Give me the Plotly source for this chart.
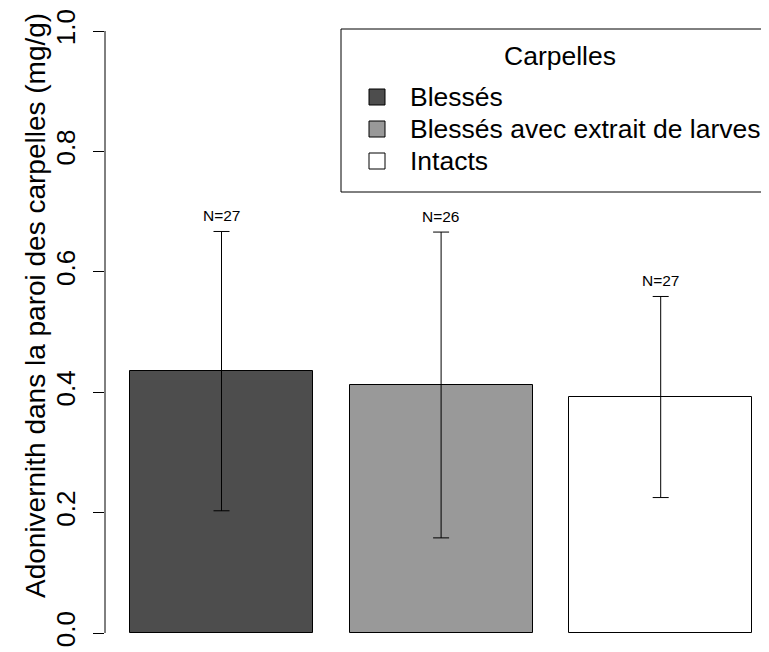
import plotly.graph_objects as go

# ---- data ----
categories = ["Blessés", "Blessés avec extrait de larves", "Intacts"]
means = [0.435, 0.412, 0.392]
sds = [0.232, 0.254, 0.167]
n_labels = ["N=27", "N=26", "N=27"]
bar_colors = ["#4D4D4D", "#999999", "#FFFFFF"]
y_ticks = [0.0, 0.2, 0.4, 0.6, 0.8, 1.0]
y_title = "Adonivernith dans la paroi des carpelles (mg/g)"
legend_title = "Carpelles"

# page body has an 8px margin -> figure is 8px smaller, all pixel refs in page coords
OFF = 8
W, H = 769 - OFF, 652 - OFF
PLOT_L, PLOT_R, PLOT_T, PLOT_B = 105, 769, 8, 652      # page pixel coords
ML = PLOT_L - OFF
MT = PLOT_T - OFF
PW, PH = PLOT_R - PLOT_L, PLOT_B - PLOT_T
FONT = "Arial, Liberation Sans, sans-serif"


def px_x(p):
    return (p - PLOT_L) / PW


def px_y(p):
    return (PLOT_B - p) / PH


fig = go.Figure()
fig.add_trace(go.Bar(
    x=categories, y=means,
    marker=dict(color=bar_colors, line=dict(color="black", width=1)),
    width=0.833,
    error_y=dict(type="data", array=sds, visible=True, color="black",
                 thickness=1, width=8),
    showlegend=False, hoverinfo="skip",
))

# N labels above error bars
for c, m, s, t in zip(categories, means, sds, n_labels):
    fig.add_annotation(x=c, y=m + s, text=t, showarrow=False, yshift=16,
                       yanchor="middle", font=dict(size=15.5, color="black", family=FONT))

# y axis line (R style, only from 0 to 1)
fig.add_shape(type="line", xref="paper", yref="y", x0=0, x1=0,
              y0=y_ticks[0], y1=y_ticks[-1], line=dict(color="black", width=1))

# y title
fig.add_annotation(xref="paper", yref="paper", x=px_x(35), y=px_y(306),
                   text=y_title, textangle=-90, showarrow=False,
                   xanchor="center", yanchor="middle",
                   font=dict(size=28, color="black", family=FONT))

# legend (manual, R style)
fig.add_shape(type="rect", xref="paper", yref="paper",
              x0=px_x(341), x1=px_x(767), y0=px_y(192), y1=px_y(29),
              line=dict(color="black", width=1), fillcolor="white")
fig.add_annotation(xref="paper", yref="paper", x=px_x(560), y=px_y(56),
                   text=legend_title, showarrow=False, xanchor="center", yanchor="middle",
                   font=dict(size=26.5, color="black", family=FONT))
for i, (name, col) in enumerate(zip(categories, bar_colors)):
    cy = 97 + 32 * i
    fig.add_shape(type="rect", xref="paper", yref="paper",
                  x0=px_x(369), x1=px_x(385), y0=px_y(cy + 8), y1=px_y(cy - 8),
                  line=dict(color="black", width=1), fillcolor=col)
    fig.add_annotation(xref="paper", yref="paper", x=px_x(408), y=px_y(cy),
                       text=name, showarrow=False, xanchor="left", yanchor="middle",
                       font=dict(size=26.5, color="black", family=FONT))

# x range: category centres 219.6 px apart, first centre at page x=221.5
step = 219.6
x0 = -(221.5 - PLOT_L) / step
x1 = x0 + PW / step
# y: value 0 at page y=633, 602 px per unit
y_min = -(PLOT_B - 633) / 602
y_max = y_min + PH / 602

fig.update_layout(
    width=W, height=H,
    margin=dict(l=ML, r=0, t=MT, b=0, pad=0),
    paper_bgcolor="white", plot_bgcolor="white",
    font=dict(family=FONT, color="black"),
    bargap=0,
    xaxis=dict(range=[x0, x1], showticklabels=False, showgrid=False,
               zeroline=False, showline=False, ticks=""),
    yaxis=dict(range=[y_min, y_max], tickvals=y_ticks,
               ticktext=[f"{v:.1f}" for v in y_ticks],
               tickangle=-90, ticks="outside", ticklen=11, tickwidth=1,
               tickcolor="black", showgrid=False, zeroline=False, showline=False,
               ticklabelstandoff=8,
               tickfont=dict(size=26, color="black", family=FONT)),
)

fig.write_html("out.html")
